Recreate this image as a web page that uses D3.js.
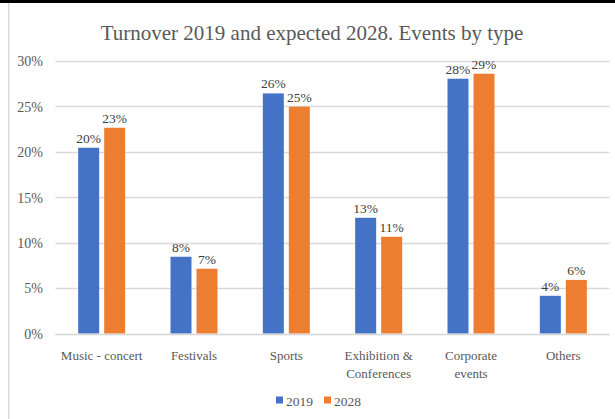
<!DOCTYPE html>
<html>
<head>
<meta charset="utf-8">
<script src="https://cdn.jsdelivr.net/npm/d3@7"></script>
</head>
<body style="margin:0">
<svg id="chart" width="615" height="419"></svg>
<script>
const FONT = "'Liberation Serif'";

// Event categories (two-line labels split on "\n")
const categories = ["Music - concert", "Festivals", "Sports", "Exhibition &\nConferences", "Corporate\nevents", "Others"];
const seriesNames = ["2019", "2028"];
const turnover2019 = [0.2045, 0.0845, 0.2643, 0.1274, 0.2805, 0.0415];
const turnover2028 = [0.2265, 0.0713, 0.2497, 0.1065, 0.2860, 0.0590];
const yTicks = [0, 0.05, 0.10, 0.15, 0.20, 0.25, 0.30];
const colors = ["#4472c4", "#ed7d31"];

const seriesValues = [turnover2019, turnover2028];
const rows = categories.map((c, i) => ({
  category: c,
  values: seriesNames.map((s, j) => ({ series: s, value: seriesValues[j][i] }))
}));

const svg = d3.select("#chart");
const W = 615, H = 419;

// frame: dark strip along the top, light rule on the left
svg.append("rect").attr("x", 0).attr("y", 0).attr("width", W).attr("height", 3).attr("fill", "#000");
svg.append("rect").attr("x", 8).attr("y", 3).attr("width", 1.5).attr("height", H - 3).attr("fill", "#d9d9d9");

const plot = { left: 55.5, right: 609.5, top: 61, bottom: 333.5 };

const y = d3.scaleLinear().domain([0, 0.30]).range([plot.bottom, plot.top]);
const x0 = d3.scaleBand().domain(categories).range([plot.left, plot.right]).padding(0);
const groupW = 47;
const x1 = d3.scaleBand().domain(seriesNames)
  .range([(x0.bandwidth() - groupW) / 2, (x0.bandwidth() + groupW) / 2])
  .paddingInner(5 / 26).paddingOuter(0);

// title
svg.append("text")
  .attr("x", 312).attr("y", 40)
  .attr("text-anchor", "middle")
  .style("font-family", FONT)
  .style("font-size", "21px")
  .attr("fill", "#595959")
  .text("Turnover 2019 and expected 2028. Events by type");

// gridlines
svg.append("g").selectAll("line").data(yTicks).join("line")
  .attr("x1", plot.left).attr("x2", plot.right)
  .attr("y1", d => Math.round(y(d)) + 0.5).attr("y2", d => Math.round(y(d)) + 0.5)
  .attr("stroke", "#d9d9d9").attr("stroke-width", 1.3);

// y axis labels
const yAxis = d3.axisLeft(y).tickValues(yTicks).tickFormat(d3.format(".0%")).tickSize(0).tickPadding(0);
const yg = svg.append("g").attr("transform", `translate(${43},0)`).call(yAxis);
yg.select(".domain").remove();
yg.attr("font-family", null).attr("font-size", null);
yg.selectAll("text")
  .style("font-family", FONT)
  .style("font-size", "14px").attr("fill", "#595959").attr("dy", "0.35em");

// bars
const groups = svg.append("g").selectAll("g").data(rows).join("g")
  .attr("transform", d => `translate(${x0(d.category)},0)`);

groups.selectAll("rect").data(d => d.values).join("rect")
  .attr("x", d => x1(d.series))
  .attr("width", x1.bandwidth())
  .attr("y", d => y(d.value))
  .attr("height", d => y(0) - y(d.value))
  .attr("fill", (d, i) => colors[i]);

// value labels
groups.selectAll("text.val").data(d => d.values).join("text")
  .attr("class", "val")
  .attr("x", d => x1(d.series) + x1.bandwidth() / 2)
  .attr("y", d => y(d.value) - 5)
  .attr("text-anchor", "middle")
  .style("font-family", FONT)
  .style("font-size", "13.5px")
  .attr("fill", "#404040")
  .text(d => d3.format(".0%")(d.value));

// baseline drawn over the bars
svg.append("line")
  .attr("x1", plot.left).attr("x2", plot.right)
  .attr("y1", Math.round(y(0)) + 0.5).attr("y2", Math.round(y(0)) + 0.5)
  .attr("stroke", "#d9d9d9").attr("stroke-width", 1.3).attr("opacity", 0.6);

// category labels
const xl = svg.append("g").selectAll("text").data(categories).join("text")
  .attr("x", d => x0(d) + x0.bandwidth() / 2)
  .attr("y", 360)
  .attr("text-anchor", "middle")
  .style("font-family", FONT)
  .style("font-size", "13px")
  .attr("fill", "#595959");
xl.selectAll("tspan").data(d => d.split("\n")).join("tspan")
  .attr("x", function () { return d3.select(this.parentNode).attr("x"); })
  .attr("dy", (d, i) => i === 0 ? 0 : 18)
  .text(d => d);

// legend
const legendX = [276, 324];
const legend = svg.append("g").selectAll("g").data(seriesNames).join("g")
  .attr("transform", (d, i) => `translate(${legendX[i]},0)`);
legend.append("rect").attr("x", 0).attr("y", 396.5).attr("width", 7).attr("height", 7)
  .attr("fill", (d, i) => colors[i]);
legend.append("text").attr("x", 10).attr("y", 406)
  .style("font-family", FONT)
  .style("font-size", "13.5px").attr("fill", "#595959").text(d => d);
</script>
</body>
</html>
